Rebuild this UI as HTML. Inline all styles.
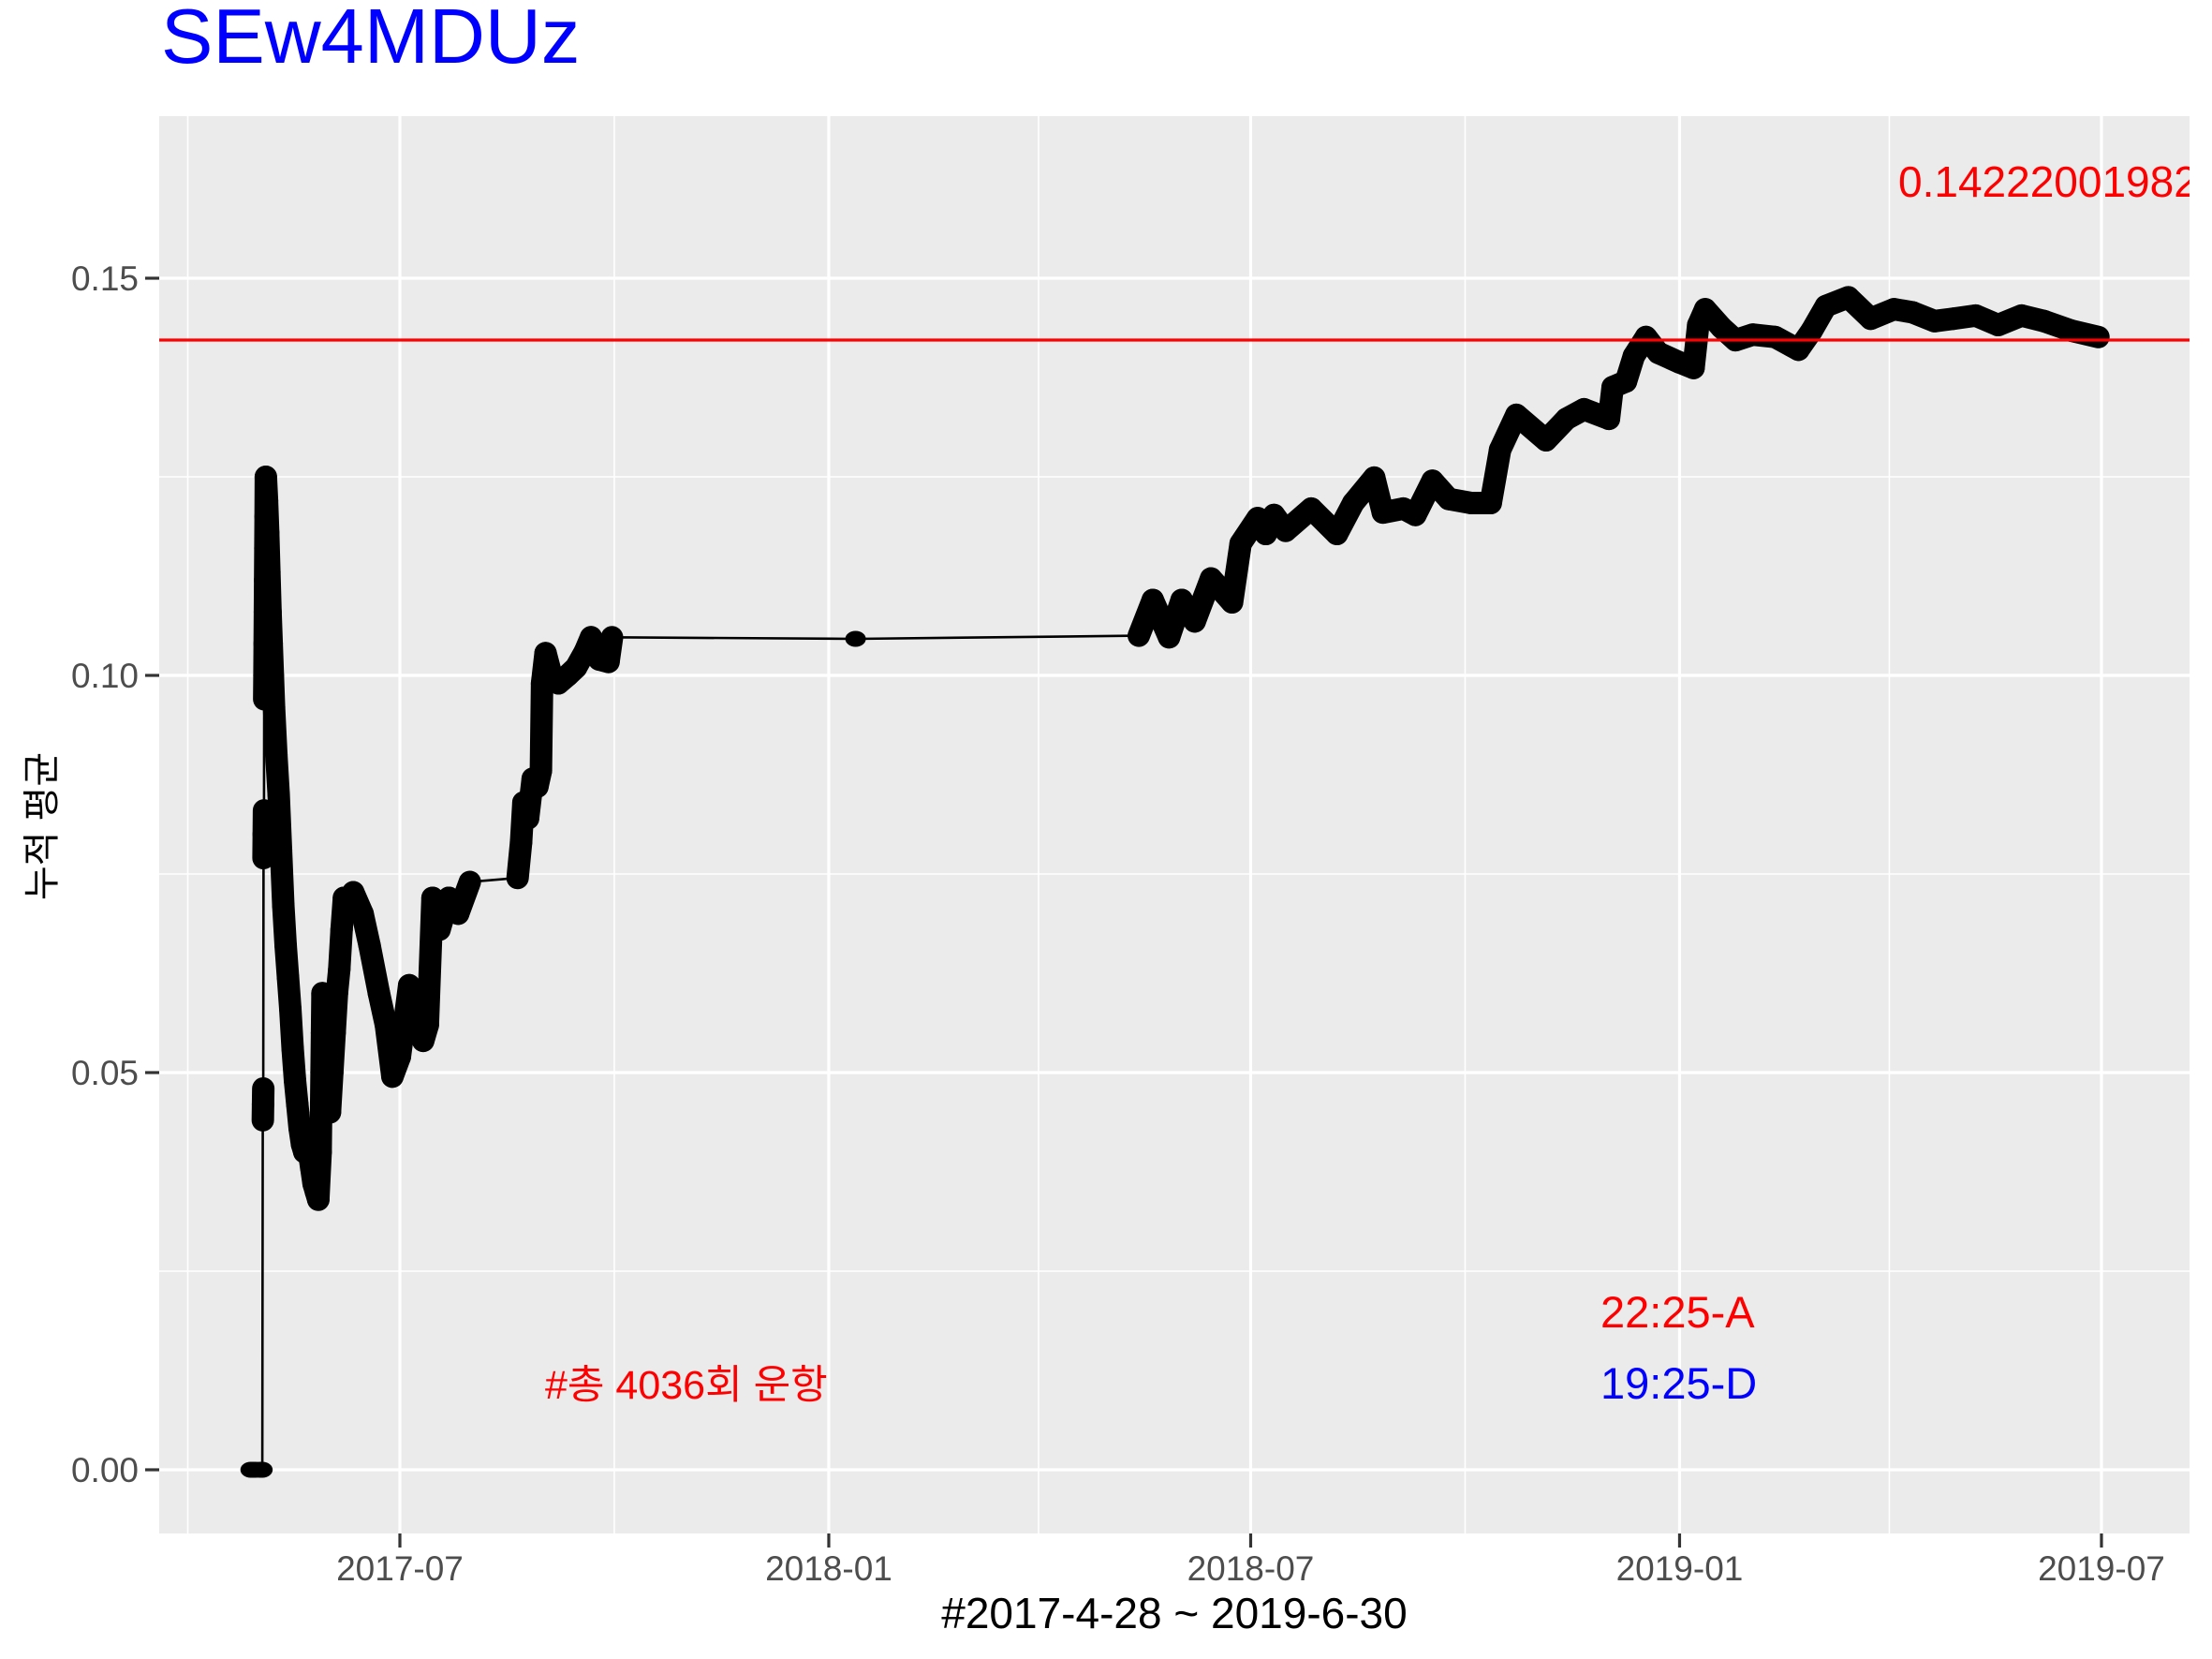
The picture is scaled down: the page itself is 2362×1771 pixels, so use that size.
<!DOCTYPE html>
<html><head><meta charset="utf-8">
<style>
html,body{margin:0;padding:0;background:#fff;}
svg{display:block;}
text{font-family:"Liberation Sans","Noto Sans CJK KR",sans-serif;}
</style></head>
<body>
<svg id="chart" width="2362" height="1771" viewBox="0 0 2362 1771" xmlns="http://www.w3.org/2000/svg">
  <rect x="0" y="0" width="2362" height="1771" fill="#ffffff"/>
  <text x="172" y="67" font-size="83" fill="#0000ff">SEw4MDUz</text>
  <rect x="170" y="124" width="2168" height="1513" fill="#ebebeb"/>
  <g id="grid"></g>
  <g id="series"></g>
  <g id="axes"></g>
  <text x="1254" y="1738" font-size="46" fill="#000" text-anchor="middle">#2017-4-28 ~ 2019-6-30</text>
  <text transform="translate(58,882) rotate(-90)" font-size="40" fill="#000" text-anchor="middle">누적 평균</text>
</svg>
<script>
// ---- data ----
const startDate = "2017-04-28";
const dayOffsets = [0,1,2,4,5,5.2,5.3,5.4,5.5,5.6,5.7,5.8,5.9,6.0,6.1,6.2,6.3,6.4,6.5,7,7.5,8,8.5,9,9.5,10,11,12,13,14,15,16,17,18,19,20,21,22,23,24,25,26,27,28,29,30,30.2,30.4,30.6,30.8,32,33,34,35,36,37,38,39,40,41,44,48,51,55,58,60.8,64,68,71,74,76,78,81,85,89,94,114.5,116,117,119,121,123,124.5,125,126.5,129,132,136,139.6,143.4,146,149.5,153.5,155,259.5,381,387,394,399.4,405,412,421,424.7,432,435.5,439,444,455,466,473,482,485.7,494.5,499.7,507,514,523.5,532,536,543,555.7,564.5,572,582.7,584.3,590,593.4,598.6,603.9,613,619,621,624,631,637,644.4,654,664,669.7,675.8,685.4,695,705,713,722.4,730.4,740,749.7,759.7,769.4,781,792.7];
const avgValues = [0,0,0,0,0,0.044,0.046,0.048,0.077,0.080,0.083,0.097,0.100,0.104,0.108,0.112,0.116,0.120,0.125,0.122,0.118,0.113,0.108,0.104,0.100,0.096,0.090,0.085,0.078,0.071,0.066,0.062,0.058,0.053,0.049,0.046,0.043,0.041,0.040,0.042,0.040,0.038,0.036,0.035,0.034,0.040,0.045,0.050,0.055,0.060,0.050,0.047,0.045,0.050,0.055,0.060,0.063,0.068,0.072,0.071,0.0727,0.070,0.066,0.060,0.056,0.0495,0.052,0.061,0.057,0.054,0.056,0.072,0.068,0.072,0.070,0.074,0.0745,0.079,0.084,0.082,0.087,0.086,0.088,0.099,0.1028,0.100,0.099,0.100,0.101,0.103,0.1048,0.102,0.1017,0.1048,0.1046,0.105,0.1095,0.1048,0.1095,0.1068,0.1122,0.1092,0.1166,0.1198,0.1178,0.1202,0.1182,0.121,0.1178,0.1217,0.1249,0.1205,0.121,0.1202,0.1245,0.1222,0.1217,0.1217,0.1284,0.1328,0.1296,0.1323,0.1335,0.1323,0.1363,0.137,0.1402,0.1426,0.1406,0.1394,0.1387,0.1441,0.1461,0.1438,0.1422,0.1429,0.1426,0.141,0.1434,0.1465,0.1476,0.1449,0.1461,0.1457,0.1446,0.1449,0.1453,0.1441,0.1453,0.1446,0.1434,0.1426];
const meanValue = 0.14222001982;
const xTickLabels = ["2017-07","2018-01","2018-07","2019-01","2019-07"];
const xTickDates = ["2017-07-01","2018-01-01","2018-07-01","2019-01-01","2019-07-01"];
const xMinorDates = ["2017-04-01","2017-10-01","2018-04-01","2018-10-01","2019-04-01"];
const yTickValues = [0,0.05,0.10,0.15];
const yTickLabels = ["0.00","0.05","0.10","0.15"];
const yMinorValues = [0.025,0.075,0.125];

// ---- scales ----
const NS = "http://www.w3.org/2000/svg";
const PL = 170, PR = 2338, PT = 124, PB = 1637;
const DAY = 86400000;
const refT = Date.parse("2017-07-01T00:00:00Z");
const startT = Date.parse(startDate + "T00:00:00Z");
function xDate(s){ return 427 + (Date.parse(s + "T00:00:00Z") - refT)/DAY*2.489; }
function xDay(d){ return 427 + ((startT - refT)/DAY + d)*2.489; }
function yVal(v){ return 1569 - v*8480; }

function mk(tag, attrs, parent){
  const e = document.createElementNS(NS, tag);
  for (const k in attrs) e.setAttribute(k, attrs[k]);
  parent.appendChild(e);
  return e;
}
const grid = document.getElementById('grid');
const series = document.getElementById('series');
const axes = document.getElementById('axes');

// grid
yMinorValues.forEach(v => {
  const l = mk('line', {x1:PL, x2:PR, y1:yVal(v), y2:yVal(v), stroke:'#fff', 'stroke-width':1.6}, grid);
  
  
});
xMinorDates.forEach(d => {
  const x = xDate(d);
  const l = mk('line', {x1:x, x2:x, y1:PT, y2:PB, stroke:'#fff', 'stroke-width':1.6}, grid);
  
  
});
yTickValues.forEach((v,i) => {
  const y = yVal(v);
  const l = mk('line', {x1:PL, x2:PR, y1:y, y2:y, stroke:'#fff', 'stroke-width':3.2}, grid);
  
  
  const t = mk('line', {x1:155, x2:PL, y1:y, y2:y, stroke:'#333', 'stroke-width':3.2}, axes);
  
  
  const tx = mk('text', {x:148, y:y+13, 'font-size':37, fill:'#4d4d4d', 'text-anchor':'end'}, axes);
  tx.textContent = yTickLabels[i];
  
  
});
xTickDates.forEach((d,i) => {
  const x = xDate(d);
  const l = mk('line', {x1:x, x2:x, y1:PT, y2:PB, stroke:'#fff', 'stroke-width':3.2}, grid);
  
  
  const t = mk('line', {x1:x, x2:x, y1:PB, y2:PB+15, stroke:'#333', 'stroke-width':3.2}, axes);
  
  
  const tx = mk('text', {x:x, y:1687, 'font-size':37, fill:'#4d4d4d', 'text-anchor':'middle'}, axes);
  tx.textContent = xTickLabels[i];
  
  
});

// series: thin line through all points
const pts = dayOffsets.map((d,i) => [xDay(d), yVal(avgValues[i])]);
const line = mk('polyline', {points: pts.map(p => p[0].toFixed(1)+','+p[1].toFixed(1)).join(' '), fill:'none', stroke:'#000', 'stroke-width':2.6}, series);


// dense point band
for (let i = 1; i < pts.length; i++){
  const gap = dayOffsets[i] - dayOffsets[i-1];
  const dv = Math.abs(avgValues[i] - avgValues[i-1]);
  if (gap <= 15 && (dv < 0.012 || gap >= 0.9) && avgValues[i] > 0.001){
    const s = mk('line', {x1:pts[i-1][0], y1:pts[i-1][1], x2:pts[i][0], y2:pts[i][1], stroke:'#000', 'stroke-width':24, 'stroke-linecap':'round'}, series);
    
    
  }
}
pts.forEach(p => {
  const c = mk('ellipse', {cx:p[0], cy:p[1], rx:11, ry:8.5, fill:'#000'}, series);
  
  
});

// mean line
const my = yVal(meanValue);
const ml = mk('line', {x1:PL, x2:PR, y1:my, y2:my, stroke:'#ff0000', 'stroke-width':3.2}, series);



// annotations
const svg = document.getElementById('chart');
const clip = mk('clipPath', {id:'panelclip'}, svg);
mk('rect', {x:PL, y:PT, width:PR-PL, height:PB-PT}, clip);
const meanLabel = mk('text', {x:2027, y:210, 'font-size':46, fill:'#ff0000', 'clip-path':'url(#panelclip)'}, svg);
meanLabel.textContent = String(meanValue);


const total = mk('text', {x:582, y:1493, 'font-size':43, fill:'#ff0000'}, svg);
total.textContent = "#총 4036회 운항";


const arr = mk('text', {x:1709, y:1417, 'font-size':47, fill:'#ff0000'}, svg);
arr.textContent = "22:25-A";


const dep = mk('text', {x:1709, y:1493, 'font-size':47, fill:'#0000ff'}, svg);
dep.textContent = "19:25-D";


</script>
</body></html>
